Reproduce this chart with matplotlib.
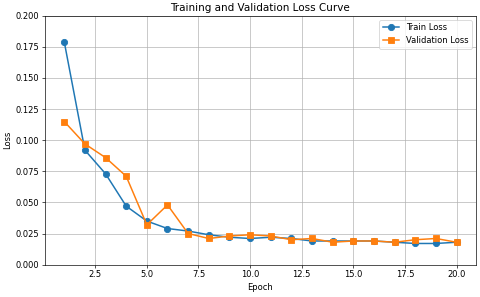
import matplotlib
matplotlib.use("Agg")
import matplotlib.pyplot as plt

epochs = list(range(1, 21))
train_loss = [0.179, 0.092, 0.073, 0.047, 0.035, 0.029, 0.027, 0.024, 0.022, 0.021,
              0.022, 0.021, 0.019, 0.019, 0.019, 0.019, 0.018, 0.017, 0.017, 0.018]
val_loss = [0.115, 0.097, 0.086, 0.071, 0.032, 0.048, 0.025, 0.021, 0.023, 0.024,
            0.023, 0.020, 0.021, 0.018, 0.019, 0.019, 0.018, 0.020, 0.021, 0.018]


def main():
    fig = plt.figure(figsize=(8, 4.95), dpi=60)
    plt.plot(epochs, train_loss, marker="o", markersize=7.5, linewidth=1.8, label="Train Loss")
    plt.plot(epochs, val_loss, marker="s", markersize=7.5, linewidth=1.8, label="Validation Loss")
    plt.xlabel("Epoch")
    plt.ylabel("Loss")
    plt.title("Training and Validation Loss Curve", fontsize=12.5)
    plt.ylim(0, 0.2)
    plt.grid(True)
    plt.legend()
    plt.subplots_adjust(left=0.093, right=0.992, top=0.947, bottom=0.109)
    fig.savefig("out.png", dpi=60)
    plt.close()


if __name__ == "__main__":
    main()
